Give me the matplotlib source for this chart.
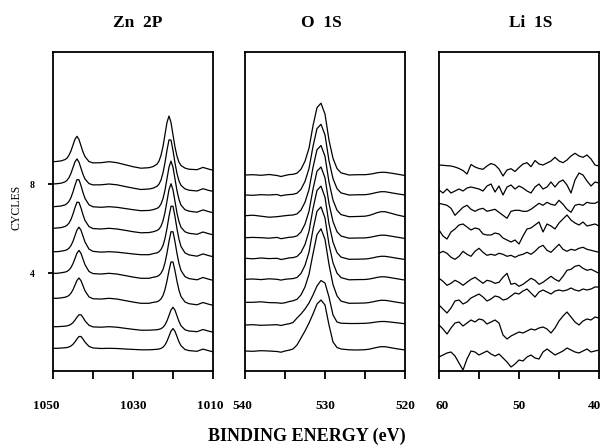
import matplotlib
matplotlib.use('Agg')
import matplotlib.pyplot as plt
from matplotlib.transforms import ScaledTranslation

plt.rcParams['font.family'] = ['Liberation Serif', 'DejaVu Serif']

# ---------------- data ----------------
cycles = [1, 2, 3, 4, 5, 6, 7, 8, 9]
cycle_ticks = [4, 8]

# Zn 2P panel
zn_energy = [1050, 1049, 1048, 1047, 1046.5, 1046, 1045.5, 1045, 1044.5, 1044, 1043.5,
             1043, 1042.5, 1042, 1041, 1040, 1038, 1036, 1034, 1032, 1030, 1028, 1026,
             1025, 1024, 1023.5, 1023, 1022.5, 1022, 1021.5, 1021, 1020.5, 1020, 1019.5,
             1019, 1018.5, 1018, 1017, 1016, 1014, 1012.5, 1011, 1010]
zn_offsets = [22.7, 44.3, 72.7, 97.7, 119.3, 142.7, 164.3, 187.0, 209.3]
zn_c1 = [0, 0, 0.25, 0.5, 0.8, 1.35, 2.35, 4.05, 6.45, 9.4, 11.8, 11.8, 9.25, 6.2, 1.9, 0.35,
         -0.2, 0, -0.2, -0.7, -1.1,
         -1.5, -1.5, -1.3, -1.0, -0.7, -0.1, 1.1, 3.4, 7.1, 12.15, 17.2, 19.75, 17.0, 11.7, 6.5,
         2.6, -1.2, -2.3, -3.0, -0.8, -2.5, -3.5]
zn_c2 = [0, 0, 0.25, 0.5, 0.85, 1.4, 2.4, 4.1, 6.6, 9.5, 12.0, 11.85, 9.2, 5.9, 1.4, -0.2,
         -0.5, 0, -0.5, -1.6, -2.6,
         -3.5, -3.5, -3.3, -3.0, -2.6, -2.0, -0.6, 1.85, 5.8, 11.25, 16.7, 19.45, 16.5, 10.8, 5.2,
         1.0, -3.1, -4.3, -5.0, -2.8, -4.5, -5.5]
zn_c3 = [0, 0, 0.4, 1.05, 1.7, 2.9, 5.15, 8.6, 13.25, 17.9, 20.3, 17.6, 12.55, 7.5, 1.4, -0.45,
         -0.75, 0, -0.75, -2.25, -3.75,
         -5.0, -5.0, -4.1, -3.45, -2.5, -0.6, 2.8, 8.8, 17.4, 27.8, 36.4, 36.3, 27.5, 16.9, 8.0,
         1.8, -3.7, -5.4, -6.5, -4.2, -6.0, -7.0]
zn_c4 = [0, 0, 0.5, 1.2, 1.9, 3.3, 5.8, 9.7, 14.9, 20.2, 22.9, 19.9, 14.2, 8.6, 1.8, -0.3,
         -0.75, 0, -0.75, -2.25, -3.75,
         -5.0, -5.0, -4.0, -3.2, -2.1, 0.0, 3.8, 10.5, 20.2, 31.9, 41.6, 41.5, 31.6, 19.7, 9.8,
         2.8, -3.3, -5.3, -6.5, -4.2, -6.0, -7.0]
zn_c5 = [0, 0, 0.5, 1.25, 2.0, 3.5, 6.2, 10.4, 16.05, 21.7, 24.55, 21.45, 15.6, 9.7, 2.6, 0.35,
         -0.45, 0, -0.45, -1.35, -2.25,
         -3.0, -3.0, -2.0, -1.15, 0.0, 2.2, 6.2, 13.2, 23.3, 35.4, 45.5, 45.4, 35.1, 22.7, 12.4,
         5.2, -1.2, -3.2, -4.5, -2.2, -4.0, -5.0]
zn_c6 = [0, 0.3, 0.7, 1.8, 3.0, 5.2, 8.9, 14.3, 20.75, 26.1, 25.9, 20.3, 13.5, 7.9, 1.7, -0.25,
         -0.7, 0, -0.7, -2.0, -3.4,
         -4.5, -4.25, -3.5, -2.2, -0.8, 2.1, 7.5, 15.85, 27.25, 38.65, 44.55, 38.45, 26.85, 15.2,
         6.6, 1.0, -3.5, -5.0, -6.0, -3.7, -5.5, -6.5]
zn_c7 = [0, 0.3, 0.7, 1.8, 3.1, 5.4, 9.2, 14.8, 21.5, 27.1, 26.9, 21.1, 14.1, 8.3, 1.9, -0.1,
         -0.6, 0, -0.6, -1.8, -3.0,
         -4.0, -3.75, -3.0, -1.7, -0.3, 2.7, 8.1, 16.6, 28.1, 39.6, 45.6, 39.4, 27.7, 15.9, 7.2,
         1.6, -3.0, -4.5, -5.5, -3.2, -5.0, -6.0]
zn_c8 = [0, 0.3, 0.8, 2.1, 3.6, 6.4, 10.7, 16.5, 22.2, 25.1, 21.8, 15.7, 9.6, 5.0, 0.4, -0.9,
         -0.8, 0, -0.8, -2.5, -4.1,
         -5.5, -5.0, -4.2, -2.3, -0.1, 4.0, 11.2, 21.4, 33.8, 44.1, 44.0, 33.5, 20.9, 10.4, 3.0,
         -1.3, -4.9, -6.2, -7.0, -4.7, -6.5, -7.3]
zn_c9 = [0, 0.3, 0.8, 2.1, 3.6, 6.5, 10.8, 16.7, 22.5, 25.4, 22.1, 15.9, 9.7, 5.1, 0.1, -1.2,
         -1, 0, -1, -3, -5,
         -6.5, -6.0, -4.9, -2.5, 0.6, 6.4, 15.3, 27.3, 39.4, 45.7, 39.2, 26.9, 14.6, 5.5, -0.5,
         -3.8, -6.4, -7.5, -8.0, -5.7, -7.5, -8.5]
zn_spectra = [zn_c1, zn_c2, zn_c3, zn_c4, zn_c5, zn_c6, zn_c7, zn_c8, zn_c9]

# O 1S panel
o_energy = [540, 539, 538, 537, 536, 535.5, 535, 534.5, 534, 533.5, 533, 532.5, 532, 531.5,
            531, 530.5, 530, 529.5, 529, 528.5, 528, 527, 526, 525, 524.5, 524, 523.5, 523,
            522.5, 522, 521, 520]
o_offsets = [20, 46, 68.7, 91.7, 112.7, 133.3, 155.3, 176, 196]
o_c1 = [0, -0.3, 0.3, 0, -0.5, -1.2, 0, 0.8, 2.0, 6.0, 13.0, 20.0, 28.0, 37.0, 47.0, 51.0,
        46.0, 26.0, 9.0, 3.5, 2.0, 1.2, 1.0, 1.3, 1.8, 2.7, 3.6, 4.3, 4.3, 3.6, 2.2, 1.0]
o_c2 = [0, 0.3, -0.3, 0, 0.3, -0.5, 0.5, 1.2, 2.5, 7.0, 11.0, 16.0, 22.0, 30.0, 39.0, 44.5,
        42.0, 28.0, 10.0, 3.0, 1.8, 1.5, 1.5, 1.7, 2.0, 2.5, 3.1, 3.5, 3.5, 3.1, 2.2, 1.2]
o_c3 = [0, 0, 0.5, -0.3, -0.5, -1.0, -0.5, 0.7, 1.5, 3.0, 7.4, 15.4, 27.9, 48.5, 67.7, 73.5,
        63.0, 37.8, 17.7, 6.5, 1.2, -1.0, -0.9, -0.7, -0.25, 0.5, 1.4, 2.0, 2.0, 1.4, 0.05, -1.2]
o_c4 = [0, 0.3, -0.3, 0.5, 0, -0.8, 0, 0.4, 0.7, 1.8, 5.9, 13.9, 27.1, 49.8, 68.1, 72.4,
        61.4, 34.9, 16.5, 6.2, 1.7, -0.5, -0.3, -0.2, 0.25, 1.0, 1.9, 2.5, 2.5, 1.9, 0.55, -0.8]
o_c5 = [0, -0.5, 0.3, -0.3, 0, -1.2, -0.5, 0.4, 0.7, 1.8, 5.9, 13.85, 27.0, 49.6, 67.9, 72.2,
        61.1, 34.5, 16.1, 5.7, 1.2, -1.0, -0.9, -0.7, -0.25, 0.5, 1.4, 2.0, 2.0, 1.4, 0.05, -1.2]
o_c6 = [0, 0.3, 0, -0.5, 0.3, -1.0, -0.3, 0.4, 0.7, 1.8, 5.7, 13.6, 26.4, 48.6, 66.5, 70.7,
        59.9, 34.1, 16.1, 6.0, 1.7, -0.5, -0.3, -0.2, 0.25, 1.0, 1.9, 2.5, 2.5, 1.9, 0.55, -0.8]
o_c7 = [0, 0.5, -0.5, -1.5, -1.0, -0.5, 0, 0.4, 0.7, 1.8, 5.7, 13.5, 26.2, 48.3, 66.0, 70.2,
        59.4, 33.6, 15.6, 5.5, 1.1, -1.0, -0.8, -0.5, 0.25, 1.5, 3.0, 4.0, 4.0, 3.0, 0.75, -1.0]
o_c8 = [0, -0.3, 0.3, 0, 0.5, -0.8, 0, 0.4, 0.7, 1.8, 5.7, 13.6, 26.4, 48.6, 66.4, 70.7,
        60.0, 34.3, 16.4, 6.4, 2.1, 0, 0.2, 0.3, 0.8, 1.65, 2.6, 3.3, 3.3, 2.6, 1.2, 0]
o_c9 = [0, 0.3, -0.3, 0.5, -0.5, -1.5, -0.5, 0.4, 0.7, 1.8, 5.8, 13.8, 26.8, 49.3, 67.4, 71.8,
        60.9, 34.8, 16.7, 6.5, 2.2, 0, 0.3, 0.3, 0.7, 1.35, 2.2, 2.7, 2.7, 2.2, 0.9, -0.5]
o_spectra = [o_c1, o_c2, o_c3, o_c4, o_c5, o_c6, o_c7, o_c8, o_c9]

# Li 1S panel
li_energy = [60, 59.5, 59, 58.5, 58, 57.5, 57, 56.5, 56, 55.5, 55, 54.5, 54, 53.5, 53, 52.5,
             52, 51.5, 51, 50.5, 50, 49.5, 49, 48.5, 48, 47.5, 47, 46.5, 46, 45.5, 45, 44.5,
             44, 43.5, 43, 42.5, 42, 41.5, 41, 40.5, 40]
li_offsets = [14, 46, 66, 92.7, 117.7, 141, 167.7, 181, 206]
li_c1 = [0, 2, 4, 5, 1, -6, -13, -2, 6, 5, 2, 4, 6, 3, 1, 3, -1, -5, -10, -7, -3, -4, 0, 2,
         -1, -2, 5, 8, 5, 2, 4, 6, 9, 7, 5, 4, 6, 8, 5, 6, 7]
li_c2 = [0, -4, -9, -3, 2, 3, -1, 2, 5, 3, 6, 5, 1, 3, 5, 2, -10, -14, -11, -9, -7, -8, -6,
         -4, -5, -3, -2, -4, -8, -3, 4, 9, 13, 8, 3, 0, 4, 6, 5, 8, 7]
li_c3 = [0, -4, -8, -3, 4, 5, 1, 3, 7, 9, 11, 8, 4, 6, 9, 8, 5, 6, 9, 12, 11, 14, 16, 12, 8,
         13, 15, 13, 11, 14, 15, 14, 15, 17, 15, 14, 16, 15, 16, 18, 18]
li_c4 = [0, -3, -7, -5, -2, -4, -7, -4, -1, 1, -2, -5, -2, -3, -5, -4, 1, 5, -6, -5, -8, -6,
         -3, 0, -2, -6, -4, -1, 2, -1, -3, 2, 8, 9, 12, 13, 10, 8, 9, 7, 5]
li_c5 = [0, 2, 0, -4, -6, -3, 2, -1, -3, 2, 5, 1, -2, -1, -2, 0, -1, -3, -2, -4, -2, -1, 1,
         -1, 2, 6, 8, 3, 1, 5, 9, 4, 2, 4, 3, 5, 6, 4, 3, 2, 1]
li_c6 = [0, -6, -9, -2, 1, 5, 6, 3, 0, 2, 1, -4, -5, -5, -3, -4, -8, -10, -12, -10, -14, -6,
         1, 2, 5, 8, -2, 6, 4, 1, 7, 11, 15, 10, 7, 5, 8, 4, 5, 6, 4]
li_c7 = [0, -1, -2, -5, -12, -8, -4, -2, -6, -8, -6, -5, -8, -7, -6, -9, -12, -15, -8, -7, -7,
         -8, -8, -6, -3, 0, -2, 1, -1, -2, 3, -1, -6, -9, -2, -1, -2, 1, 0, 0, 2]
li_c8 = [0, -3, 1, -3, -1, 1, -1, 2, 3, 2, 1, -1, 4, 6, -2, 4, -5, 3, 5, 1, 4, 2, -1, -3, 3,
         6, 1, 3, 8, 3, 8, 10, 5, -3, 10, 17, 15, 9, 4, 8, 7]
li_c9 = [0, -0.3, -0.7, -1, -2, -3.5, -5.5, -9, 0.5, -2, -3.5, -4.3, -1, 1.5, 0, -4, -11, -5,
         -3.7, -6.5, -2.5, 1, 2.3, -1.7, 4.5, 1, 0, 2, 4, 7.7, 4, 2.3, 5, 9, 11.7, 9, 7.7, 10,
         6, 0, -1]
li_spectra = [li_c1, li_c2, li_c3, li_c4, li_c5, li_c6, li_c7, li_c8, li_c9]

panel_titles = ['Zn  2P', 'O  1S', 'Li  1S']
panel_xlims = [(1050, 1010), (540, 520), (60, 40)]
panel_xticks = [[1050, 1040, 1030, 1020, 1010], [540, 535, 530, 525, 520], [60, 55, 50, 45, 40]]
panel_xticklabels = [['1050', '', '1030', '', '1010'], ['540', '', '530', '', '520'],
                     ['60', '', '50', '', '40']]

# ---------------- figure ----------------
W, H = 609, 445
fig = plt.figure(figsize=(W / 100, H / 100), dpi=100)

ax_lefts = [53, 245, 439]
ax_width = 160
ax_top, ax_bottom = 52, 371

panels = [(zn_energy, zn_spectra, zn_offsets),
          (o_energy, o_spectra, o_offsets),
          (li_energy, li_spectra, li_offsets)]

title_x = [0.53, 0.478, 0.57]
# per-label horizontal shift in points
label_dx = [
    [-5, 0, 0, 0, -2],
    [-2, 0, 0, 0, 0],
    [2, 0, 0, 0, -3],
]

for i, (energy, spectra, offsets) in enumerate(panels):
    ax = fig.add_axes([ax_lefts[i] / W, (H - ax_bottom) / H, ax_width / W,
                       (ax_bottom - ax_top) / H])
    for spec, off in zip(spectra, offsets):
        ax.plot(energy, [off + v for v in spec], color='black', lw=0.9)
    ax.set_xlim(*panel_xlims[i])
    ax.set_ylim(0, ax_bottom - ax_top)
    for sp in ax.spines.values():
        sp.set_linewidth(1.3)
    ax.set_xticks(panel_xticks[i])
    ax.set_xticklabels(panel_xticklabels[i], fontsize=9.5, fontweight='bold')
    ax.tick_params(axis='x', direction='out', length=6, width=1.3, pad=15)
    for lab, dx in zip(ax.get_xticklabels(), label_dx[i]):
        if dx:
            lab.set_transform(lab.get_transform() +
                              ScaledTranslation(dx / 72, 0, fig.dpi_scale_trans))
    if i == 0:
        ax.set_yticks([offsets[c - 1] for c in cycle_ticks])
        ax.set_yticklabels([str(c) for c in cycle_ticks], fontsize=7, fontweight='bold')
        ax.tick_params(axis='y', direction='out', length=3.5, width=1.3, pad=10)
    else:
        ax.set_yticks([])
    ax.text(title_x[i], 1 + (ax_top - 23) / (ax_bottom - ax_top), panel_titles[i],
            transform=ax.transAxes, ha='center', va='center', fontsize=12.5,
            fontweight='bold')

fig.text(17 / W, 1 - 207 / H, 'CYCLES', rotation=90, ha='center', va='center', fontsize=8.5)
fig.text(307 / W, 1 - 436 / H, 'BINDING ENERGY (eV)', ha='center', va='center',
         fontsize=13, fontweight='bold')

fig.savefig('out.png', dpi=100)
